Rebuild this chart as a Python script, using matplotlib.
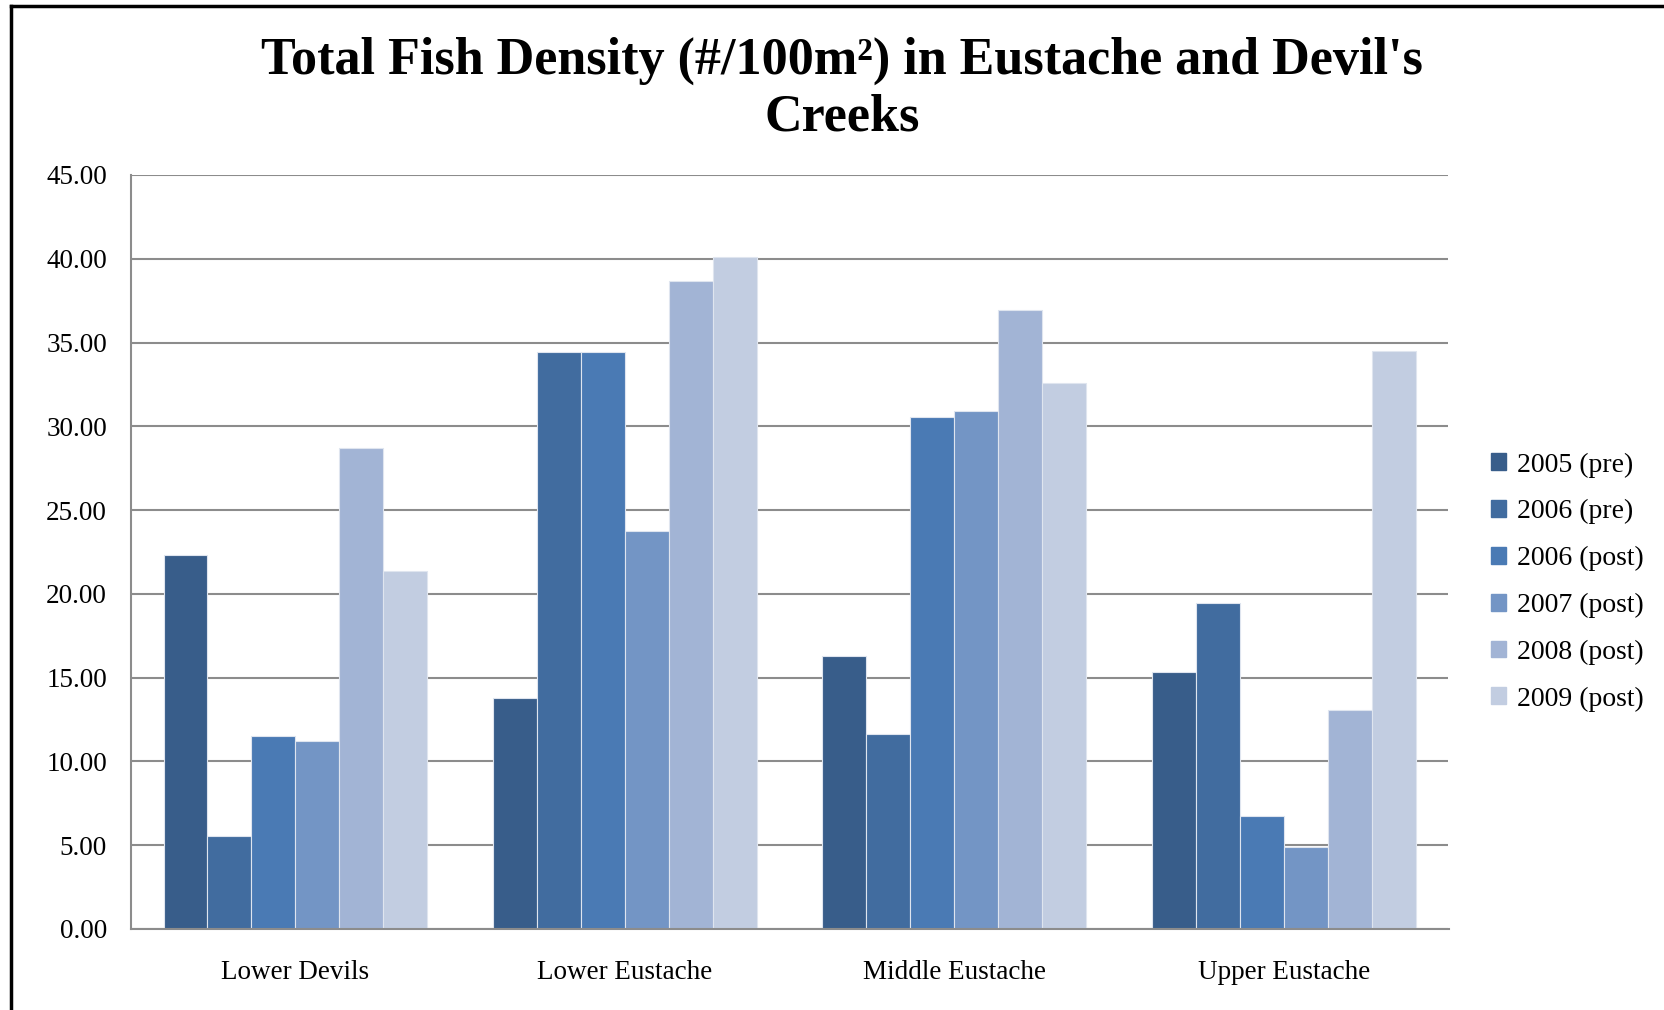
import matplotlib
matplotlib.use("Agg")
import matplotlib.pyplot as plt
import numpy as np
from matplotlib.lines import Line2D
from matplotlib.ticker import FormatStrFormatter

sites = ["Lower Devils", "Lower Eustache", "Middle Eustache", "Upper Eustache"]
series = ["2005 (pre)", "2006 (pre)", "2006 (post)", "2007 (post)", "2008 (post)", "2009 (post)"]
v2005_pre = [22.30, 13.80, 16.30, 15.35]
v2006_pre = [5.55, 34.45, 11.65, 19.45]
v2006_post = [11.50, 34.45, 30.57, 6.75]
v2007_post = [11.25, 23.75, 30.93, 4.90]
v2008_post = [28.72, 38.66, 36.97, 13.05]
v2009_post = [21.36, 40.11, 32.60, 34.51]
values = [v2005_pre, v2006_pre, v2006_post, v2007_post, v2008_post, v2009_post]
colors = ["#385D8A", "#416C9F", "#4A7AB4", "#7395C5", "#A2B4D5", "#C2CDE1"]
yticks = [0, 5, 10, 15, 20, 25, 30, 35, 40, 45]

W, H = 1665, 1010
fig = plt.figure(figsize=(W / 100, H / 100), dpi=100)
serif = ["Liberation Serif", "DejaVu Serif"]

ax = fig.add_axes([130.6 / W, 81 / H, (1448.5 - 130.6) / W, (929 - 175) / H])
n = len(series)
bw = 1 / 7.5
x = np.arange(len(sites))
for i, (name, vals, c) in enumerate(zip(series, values, colors)):
    ax.bar(x + (i - (n - 1) / 2) * bw, vals, width=bw, color=c, label=name,
           edgecolor="#dfe5ef", linewidth=0.8, zorder=3)

ax.set_xlim(-0.5, len(sites) - 0.5)
ax.set_ylim(0, 45)
ax.set_yticks(yticks)
ax.yaxis.set_major_formatter(FormatStrFormatter("%.2f"))
ax.set_xticks(x)
ax.set_xticklabels(sites)
ax.grid(axis="y", color="#8c8c8c", linewidth=1.5, zorder=0)
ax.set_axisbelow(True)
for s in ["top", "right"]:
    ax.spines[s].set_visible(False)
for s in ["left", "bottom"]:
    ax.spines[s].set_color("#8c8c8c")
    ax.spines[s].set_linewidth(1.5)
    ax.spines[s].set_zorder(4)
ax.tick_params(axis="both", length=0, labelsize=19.5)
ax.tick_params(axis="y", pad=17)
ax.tick_params(axis="x", pad=22)
for lab in ax.get_xticklabels() + ax.get_yticklabels():
    lab.set_family(serif)

# legend
handles = [plt.Rectangle((0, 0), 1, 1, color=c) for c in colors]
leg = fig.legend(handles, series, loc="center left", bbox_to_anchor=(1466 / W, 1 - 582 / H),
                 frameon=False, prop={"family": serif, "size": 20},
                 handlelength=0.55, handleheight=0.55, handletextpad=0.4, labelspacing=0.78)

# title
fig.text(842 / W, 1 - 89 / H, "Total Fish Density (#/100m²) in Eustache and Devil's\nCreeks",
         ha="center", va="center", family=serif, weight="bold", fontsize=37.5,
         linespacing=1.22)

# outer frame (partially cropped)
fig.add_artist(Line2D([11 / W, 11 / W], [0, 1 - 6 / H], transform=fig.transFigure,
                      color="black", linewidth=2.5))
fig.add_artist(Line2D([11 / W, 1], [1 - 6 / H, 1 - 6 / H], transform=fig.transFigure,
                      color="black", linewidth=2.5))

fig.savefig("out.png", dpi=100, facecolor="white")
